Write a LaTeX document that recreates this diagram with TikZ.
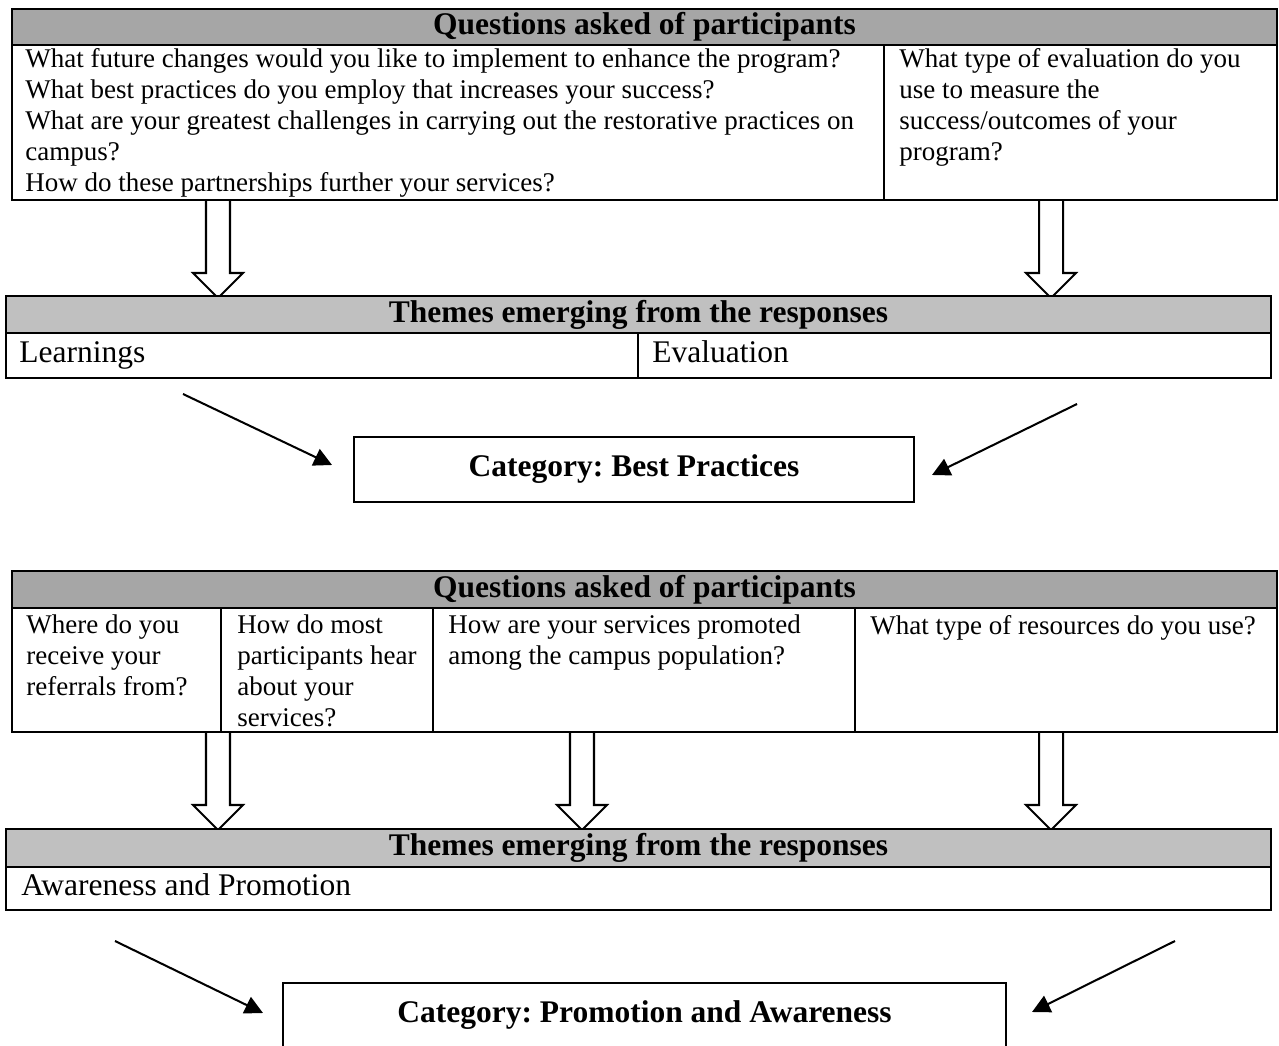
\documentclass[tikz,border=0pt]{standalone}
\usepackage{fontspec}
\setmainfont{Liberation Serif}
\usetikzlibrary{arrows.meta}
\frenchspacing

\definecolor{qgray}{HTML}{A6A6A6}
\definecolor{tgray}{HTML}{C0C0C0}

\tikzset{
  box/.style={line width=1.1pt},
  hdr/.style={font=\fontsize{14}{16}\selectfont\bfseries},
  cell/.style={anchor=north west, inner sep=0pt, align=left, font=\fontsize{12}{13.8}\selectfont},
  theme/.style={anchor=base west, inner sep=0pt, font=\fontsize{14}{16}\selectfont},
  catbox/.style={draw, line width=0.9pt, minimum height=28.9pt, inner sep=0pt, hdr},
  pointer/.style={line width=0.9pt, -{Triangle[length=8pt,width=8pt]}},
  hollow/.pic={\draw[line width=0.9pt] (-12,0) -- (-12,73) -- (-25,73) -- (0,98) -- (25,73) -- (12,73) -- (12,0);}
}

\begin{document}
\begin{tikzpicture}[x=0.4444pt, y=-0.4444pt]
\useasboundingbox (0,0) rectangle (1279,1046);
\clip (0,0) rectangle (1279,1046);

% first block: questions
\draw[box, fill=qgray] (12,9) rectangle (1277,45) node[pos=.5, hdr] (q1h) {Questions asked of participants};
\draw[box] (12,45) rectangle (884,200);
\draw[box] (884,45) rectangle (1277,200);
\node[cell] (q1a) at (25,47.6) {What future changes would you like to implement to enhance the program?\\
  What best practices do you employ that increases your success?\\
  What are your greatest challenges in carrying out the restorative practices on\\
  campus?\\
  How do these partnerships further your services?};
\node[cell] (q1b) at (899,47.6) {What type of evaluation do you\\ use to measure the\\ success/outcomes of your\\ program?};

\pic at (218,200) {hollow};
\pic at (1051,200) {hollow};

% themes
\draw[box, fill=tgray] (6,296) rectangle (1271,333) node[pos=.5, hdr] (t1h) {Themes emerging from the responses};
\draw[box] (6,333) rectangle (638,378);
\draw[box] (638,333) rectangle (1271,378);
\node[theme] (t1a) at (19,363) {Learnings};
\node[theme] (t1b) at (652,363) {Evaluation};

% category
\node[catbox, minimum width=248.9pt] (c1) at (634,469.5) {Category: Best Practices};
\coordinate (p1) at (183,394);
\coordinate (p1e) at (332,465);
\coordinate (p2) at (1077,404);
\coordinate (p2e) at (932,475);
\draw[pointer] (p1) -- (p1e);
\draw[pointer] (p2) -- (p2e);

% second block: questions
\draw[box, fill=qgray] (12,571) rectangle (1277,608) node[pos=.5, hdr] (q2h) {Questions asked of participants};
\draw[box] (12,608) rectangle (221,732);
\draw[box] (221,608) rectangle (433,732);
\draw[box] (433,608) rectangle (855,732);
\draw[box] (855,608) rectangle (1277,732);
\node[cell] (q2a) at (26,614.6) {Where do you\\ receive your\\ referrals from?};
\node[cell] (q2b) at (237,614.6) {How do most\\ participants hear\\ about your\\ services?};
\node[cell] (q2c) at (448,614.6) {How are your services promoted\\ among the campus population?};
\node[cell] (q2d) at (870,614.6) {What type of resources do you use?};

\pic at (218,732) {hollow};
\pic at (582,732) {hollow};
\pic at (1051,732) {hollow};

% themes
\draw[box, fill=tgray] (6,829) rectangle (1271,867) node[pos=.5, hdr] (t2h) {Themes emerging from the responses};
\draw[box] (6,867) rectangle (1271,910);
\node[theme] (t2a) at (21,895) {Awareness and Promotion};

% category
\node[catbox, minimum width=321.3pt] (c2) at (644.5,1015.5) {Category: Promotion and Awareness};
\coordinate (p3) at (115,941);
\coordinate (p3e) at (263,1013);
\coordinate (p4) at (1175,941);
\coordinate (p4e) at (1032,1012);
\draw[pointer] (p3) -- (p3e);
\draw[pointer] (p4) -- (p4e);
\end{tikzpicture}
\end{document}
